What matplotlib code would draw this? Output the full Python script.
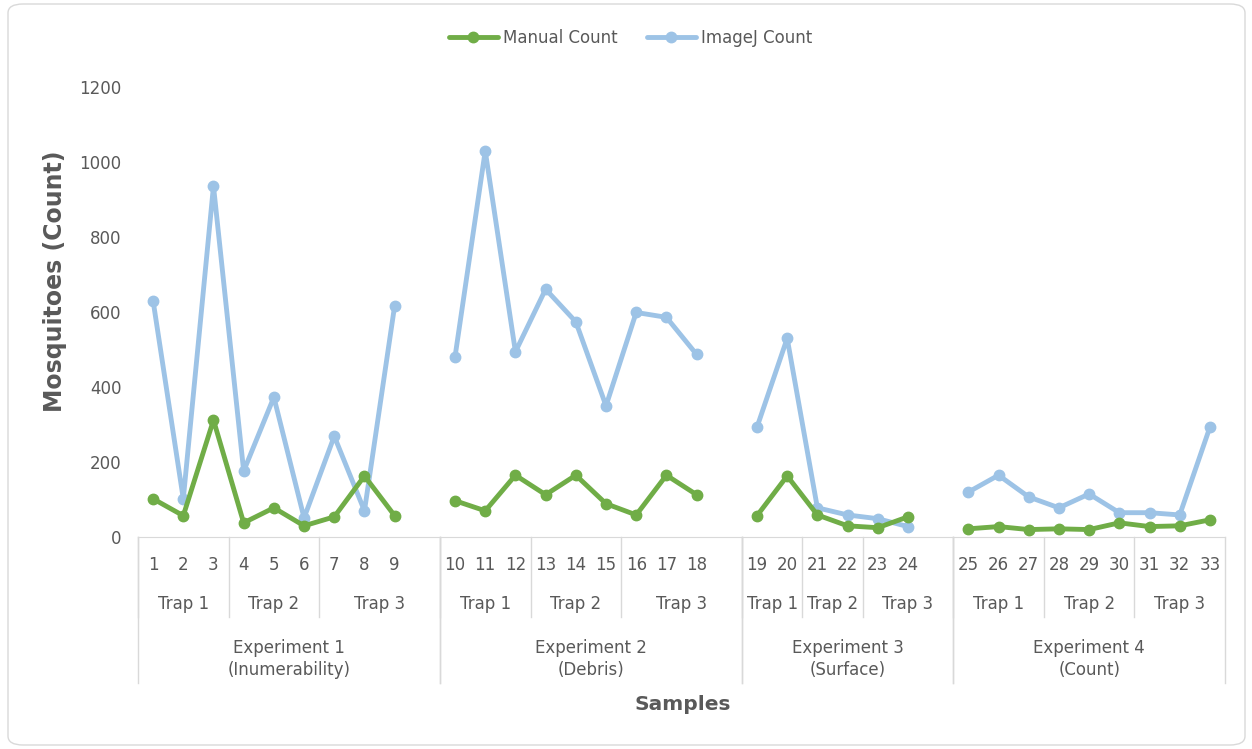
import numpy as np
import matplotlib.pyplot as plt
from matplotlib.patches import FancyBboxPatch

plt.rcParams['font.family'] = ['DejaVu Sans']

# Chart data
experiments = ["Experiment 1\n(Inumerability)", "Experiment 2\n(Debris)",
               "Experiment 3\n(Surface)", "Experiment 4\n(Count)"]
# samples per trap, for each experiment
trap_sizes = [[3, 3, 3], [3, 3, 3], [2, 2, 2], [3, 3, 3]]
trap_names = ["Trap 1", "Trap 2", "Trap 3"]
sample_labels = [str(i) for i in range(1, 34)]

manual_count = [101, 56, 311, 37, 77, 29, 53, 162, 56,
                96, 69, 164, 112, 164, 88, 58, 164, 112,
                56, 162, 58, 29, 24, 53,
                21, 27, 19, 21, 19, 37, 27, 29, 45]
imagej_count = [629, 101, 935, 175, 372, 50, 268, 69, 616,
                480, 1029, 493, 660, 573, 349, 598, 585, 486,
                292, 529, 77, 58, 48, 27,
                119, 164, 106, 77, 114, 64, 64, 58, 292]

green = '#70AD47'
blue = '#9DC3E6'
grey_txt = '#595959'
grey_line = '#D9D9D9'
fs = 12

# Category positions: one empty slot after each experiment except the last
x_pos = []
exp_bounds = []
trap_bounds = []
pos = 0
for e, sizes in enumerate(trap_sizes):
    start = pos
    for k, n in enumerate(sizes):
        t_start = pos
        x_pos.extend(range(pos, pos + n))
        pos += n
        if k == len(sizes) - 1 and e < len(trap_sizes) - 1:
            pos += 1  # blank slot
        trap_bounds.append((t_start - 0.5, pos - 0.5))
    exp_bounds.append((start - 0.5, pos - 0.5))
n_slots = pos

# Build series with NaN gaps between experiments
xs = np.arange(n_slots)
man = np.full(n_slots, np.nan)
imj = np.full(n_slots, np.nan)
man[x_pos] = manual_count
imj[x_pos] = imagej_count

fig = plt.figure(figsize=(12.52, 7.49), dpi=100)
ax = fig.add_axes([138 / 1252, 1 - 536.7 / 749, (1225 - 138) / 1252, 450 / 749])

ax.plot(xs, man, color=green, lw=3.5, marker='o', ms=7.5, label='Manual Count',
        solid_joinstyle='round', solid_capstyle='round', zorder=3)
ax.plot(xs, imj, color=blue, lw=3.5, marker='o', ms=7.5, label='ImageJ Count',
        solid_joinstyle='round', solid_capstyle='round', zorder=2)

ax.set_xlim(-0.5, n_slots - 0.5)
ax.set_ylim(0, 1200)
ax.set_yticks(range(0, 1201, 200))
ax.tick_params(axis='y', length=0, pad=12, labelsize=fs, labelcolor=grey_txt)
ax.set_xticks([])
for s in ['top', 'right', 'left']:
    ax.spines[s].set_visible(False)
ax.spines['bottom'].set_color(grey_line)

# Multi-level category axis
tr = ax.get_xaxis_transform()
for x, lab in zip(x_pos, sample_labels):
    ax.text(x, -0.063, lab, transform=tr, ha='center', va='center',
            fontsize=fs, color=grey_txt)
for i, (a, b) in enumerate(trap_bounds):
    ax.text((a + b) / 2, -0.150, trap_names[i % 3], transform=tr, ha='center',
            va='center', fontsize=fs, color=grey_txt)
    ax.plot([a, a], [0, -0.178], transform=tr, color=grey_line, lw=1, clip_on=False)
for (a, b), lab in zip(exp_bounds, experiments):
    ax.text((a + b) / 2, -0.272, lab, transform=tr, ha='center', va='center',
            fontsize=fs, color=grey_txt, linespacing=1.25)
    ax.plot([a, a], [0, -0.325], transform=tr, color=grey_line, lw=1, clip_on=False)
    ax.plot([b, b], [0, -0.325], transform=tr, color=grey_line, lw=1, clip_on=False)

fig.text(683 / 1252, 1 - 705 / 749, 'Samples', ha='center', va='center',
         fontsize=14.5, fontweight='bold', color=grey_txt)
fig.text(55 / 1252, 1 - 281 / 749, 'Mosquitoes (Count)', ha='center', va='center',
         rotation=90, fontsize=17, fontweight='bold', color=grey_txt)

fig.legend(loc='center', bbox_to_anchor=(631 / 1252, 1 - 38 / 749), ncol=2, frameon=False,
           fontsize=fs, labelcolor=grey_txt, handlelength=2.9, columnspacing=1.75,
           handletextpad=0.35)

border = FancyBboxPatch((8 / 1252, 4 / 749), 1237 / 1252, 741 / 749,
                        boxstyle='round,pad=0,rounding_size=0.012',
                        transform=fig.transFigure, fill=False, ec=grey_line, lw=1)
fig.patches.append(border)

fig.savefig('out.png', dpi=100)
